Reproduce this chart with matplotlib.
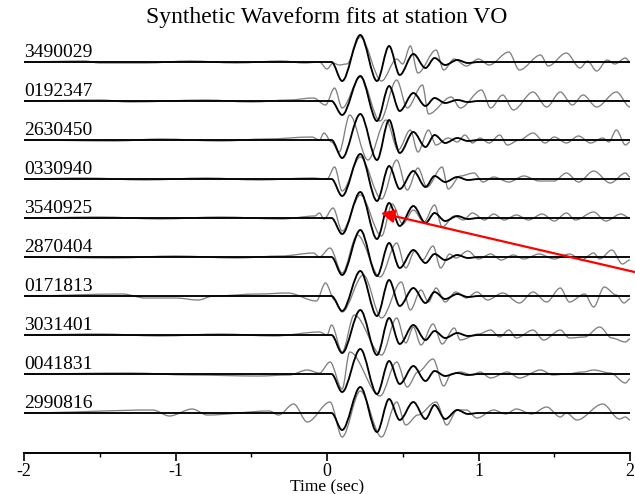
import matplotlib
matplotlib.use("Agg")
import matplotlib.pyplot as plt
from matplotlib.ticker import MultipleLocator
from matplotlib.path import Path
from matplotlib.patches import PathPatch

plt.rcParams['font.family'] = ['Liberation Serif', 'DejaVu Serif']

title = "Synthetic Waveform fits at station VO"
xlabel = "Time (sec)"
stations = ["3490029", "0192347", "2630450", "0330940", "3540925",
            "2870404", "0171813", "3031401", "0041831", "2990816"]
xticks = [-2, -1, 0, 1, 2]
xtick_labels = ["-2", "-1", "0", "1", "2"]

# synthetic (black) waveforms: common time samples (extrema), per-trace amplitudes
syn_t = [-2.0, 0.03, 0.10, 0.22, 0.33, 0.41, 0.48, 0.57, 0.65, 0.71, 0.78, 0.86, 0.93, 1.0, 2.0]
syn_a = {
    "3490029": [0, 0, -19, 27, -19, 16, -13, 8, -6, 4, -3, 2, -1, 0, 0],
    "0192347": [0, 0, -14, 25, -20, 15, -10, 8, -5, 3, -2, 1, -1, 0, 0],
    "2630450": [0, 0, -18, 26, -20, 20, -13, 8, -7, 5, -3, 2, -1, 0, 0],
    "0330940": [0, 0, -17, 25, -22, 13, -10, 8, -8, 3, -3, 2, -1, 0, 0],
    "3540925": [0, 0, -16, 26, -21, 15, -8, 12, -5, 5, -3, 2, -1, 0, 0],
    "2870404": [0, 0, -18, 27, -19, 14, -11, 7, -6, 3, -3, 2, -1, 0, 0],
    "0171813": [0, 0, -15, 25, -20, 16, -10, 8, -7, 4, -3, 2, -1, 0, 0],
    "3031401": [0, 0, -18, 25, -20, 17, -9, 10, -5, 4, -3, 2, -1, 0, 0],
    "0041831": [0, 0, -18, 25, -20, 13, -10, 8, -7, 3, -2, 1, -1, 0, 0],
    "2990816": [0, 0, -17, 26, -19, 14, -7, 11, -6, 8, -6, 3, -1, 0, 0],
}

# observed (grey) waveforms: extrema times and amplitudes per trace
obs_t = {
    "3490029": [-2.0, -1.6, -1.5, -1.2, -0.9, -0.6, -0.3, -0.15, -0.05, 0.0, 0.04, 0.08, 0.13, 0.22, 0.36, 0.46, 0.50, 0.55, 0.60, 0.72, 0.77, 0.84, 0.92, 1.0, 1.07, 1.2, 1.27, 1.41, 1.46, 1.58, 1.67, 1.72, 1.78, 1.85, 1.90, 1.97, 2.0],
    "0192347": [-2.0, -1.5, -1.3, -0.8, -0.5, -0.25, -0.09, -0.01, 0.05, 0.10, 0.22, 0.35, 0.46, 0.53, 0.63, 0.67, 0.82, 0.88, 1.02, 1.08, 1.16, 1.23, 1.36, 1.45, 1.54, 1.62, 1.69, 1.78, 1.91, 2.0],
    "2630450": [-2.0, -1.4, -1.1, -0.7, -0.4, -0.1, -0.05, -0.02, 0.03, 0.08, 0.15, 0.27, 0.39, 0.47, 0.55, 0.60, 0.67, 0.72, 0.80, 0.86, 0.91, 0.96, 1.01, 1.07, 1.14, 1.19, 1.27, 1.36, 1.44, 1.5, 1.58, 1.66, 1.74, 1.82, 1.86, 1.91, 1.97, 2.0],
    "0330940": [-2.0, -1.6, -1.2, -0.8, -0.45, -0.1, 0.0, 0.05, 0.10, 0.22, 0.36, 0.46, 0.53, 0.60, 0.66, 0.76, 0.80, 0.88, 0.97, 1.03, 1.1, 1.2, 1.3, 1.4, 1.50, 1.58, 1.66, 1.76, 1.87, 1.97, 2.0],
    "3540925": [-2.0, -1.5, -1.1, -0.7, -0.3, -0.08, -0.05, -0.02, 0.04, 0.10, 0.22, 0.36, 0.43, 0.50, 0.57, 0.64, 0.71, 0.76, 0.84, 0.90, 0.96, 1.04, 1.1, 1.17, 1.25, 1.33, 1.42, 1.5, 1.58, 1.64, 1.76, 1.84, 1.94, 2.0],
    "2870404": [-2.0, -1.4, -1.0, -0.6, -0.3, -0.09, -0.05, 0.02, 0.10, 0.20, 0.35, 0.46, 0.52, 0.58, 0.63, 0.70, 0.75, 0.81, 0.85, 0.93, 1.0, 1.08, 1.15, 1.23, 1.3, 1.4, 1.5, 1.6, 1.68, 1.76, 1.80, 1.88, 1.95, 2.0],
    "0171813": [-2.0, -1.35, -1.2, -1.0, -0.85, -0.75, -0.45, -0.26, -0.07, -0.01, 0.05, 0.10, 0.24, 0.36, 0.49, 0.55, 0.62, 0.67, 0.72, 0.78, 0.85, 0.92, 0.99, 1.06, 1.16, 1.27, 1.36, 1.45, 1.54, 1.60, 1.70, 1.76, 1.83, 1.91, 1.96, 2.0],
    "3031401": [-2.0, -1.5, -1.1, -0.7, -0.35, -0.05, 0.0, 0.03, 0.10, 0.18, 0.36, 0.46, 0.52, 0.57, 0.62, 0.70, 0.76, 0.84, 0.88, 1.0, 1.08, 1.14, 1.2, 1.25, 1.36, 1.43, 1.54, 1.6, 1.70, 1.80, 1.88, 1.97, 2.0],
    "0041831": [-2.0, -1.3, -0.9, -0.45, -0.25, -0.13, -0.05, 0.02, 0.10, 0.15, 0.35, 0.46, 0.53, 0.60, 0.70, 0.77, 0.82, 0.88, 0.96, 1.01, 1.08, 1.19, 1.27, 1.41, 1.49, 1.58, 1.69, 1.76, 1.87, 1.97, 2.0],
    "2990816": [-2.0, -1.15, -1.04, -0.89, -0.79, -0.38, -0.32, -0.22, -0.13, 0.02, 0.10, 0.22, 0.36, 0.46, 0.52, 0.60, 0.72, 0.79, 0.86, 0.92, 0.99, 1.10, 1.18, 1.25, 1.35, 1.45, 1.54, 1.58, 1.65, 1.82, 1.93, 1.97, 2.0],
}
obs_a = {
    "3490029": [0, 1, -1, -1, 1, -1, 1, -1, 0, -7, -1, -3, -2, 25, -19, 3, -2, 16, -11, 12, -8, 3, -4, 3, -3, 10, -8, 7, -4, 9, -6, 1, -9, 2, -2, 4, 0],
    "0192347": [0, 1, -1, 1, -1, 1, 3, -4, 13, -7, 24, -20, 21, -7, 16, -13, 4, -7, 11, -7, 6, -9, 9, -6, 9, -4, 6, -6, 9, -6],
    "2630450": [0, -1, 1, -1, 1, 3, 0, 7, -2, -12, 25, -20, 20, -10, 10, -12, 10, -5, 2, -2, 5, -3, 2, -3, 5, -5, 0, 7, -3, 3, -3, 4, -3, 2, -2, 10, -5, -2],
    "0330940": [0, 1, -1, 1, -1, 1, 0, 12, -12, 22, -20, 19, -11, 11, -8, 12, -10, 3, 6, -3, 2, -3, 3, -2, -2, 6, -3, 8, -4, 6, 2],
    "3540925": [0, 1, -1, 1, -1, 2, 5, -1, 10, -13, 23, -18, 14, -6, 8, -4, 13, -9, 2, -2, 5, -2, 4, -2, 3, -2, 4, -3, 5, -2, 6, -3, 4, 0],
    "2870404": [0, -1, 1, -1, 1, 4, 0, 9, -16, 22, -20, 14, -11, 6, -3, 11, -11, 3, -1, 6, -2, 3, -3, 2, -2, 3, -2, 3, -3, 4, -2, 7, -7, -3],
    "0171813": [0, 2, -2, -2, -4, 0, 2, 3, -5, 13, -4, -16, 21, -22, 14, -14, 6, -6, 8, -6, 4, -2, 4, -4, 3, -7, 4, -6, 8, -6, 2, -11, 9, 1, -7, -3],
    "3031401": [0, 1, -1, 1, -1, 3, 0, 10, -17, 20, -20, 17, -8, 8, -10, 11, -9, 7, -5, 1, 5, -2, 5, -3, 5, -5, 5, -3, -2, 8, -3, -7, -4],
    "0041831": [0, 1, -1, -2, -1, 4, 1, 12, -15, 22, -22, 12, -13, 2, 15, -12, 0, 2, -1, 2, -4, 2, -4, 4, -1, 0, 2, 4, 1, -9, -5],
    "2990816": [0, 3, -3, 4, -2, 2, -2, 9, -9, 11, -24, 22, -24, 11, -12, -2, 11, -12, 3, 3, -5, 3, -1, 4, -1, 6, -4, 0, -7, 9, -6, -4, -7],
}


def wave_patch(ts, ys, **kw):
    """Smooth curve through the given extrema (horizontal tangents at each)."""
    verts = [(ts[0], ys[0])]
    codes = [Path.MOVETO]
    for k in range(1, len(ts)):
        dt = ts[k] - ts[k - 1]
        verts += [(ts[k - 1] + dt / 3, ys[k - 1]), (ts[k] - dt / 3, ys[k]), (ts[k], ys[k])]
        codes += [Path.CURVE4] * 3
    return PathPatch(Path(verts, codes), fill=False, capstyle="round",
                     joinstyle="round", **kw)


fig = plt.figure(figsize=(6.35, 4.94), dpi=100)
ax = fig.add_axes([24 / 635, 41 / 494, 606 / 635, 428 / 494])
ax.set_xlim(-2, 2)
ax.set_ylim(0, 428)

spacing = 39
base0 = 40
n = len(stations)
for i, st in enumerate(stations):
    base = base0 + spacing * (n - 1 - i)
    ax.add_patch(wave_patch(obs_t[st], [base + a for a in obs_a[st]],
                            edgecolor="#808080", lw=0.95, zorder=2))
    ax.add_patch(wave_patch(syn_t, [base + a for a in syn_a[st]],
                            edgecolor="black", lw=1.35, zorder=3))
    ax.text(-2.0, base + 1.5, st, ha="left", va="bottom", fontsize=14, zorder=4)

for s in ("left", "right", "top"):
    ax.spines[s].set_visible(False)
ax.spines["bottom"].set_linewidth(1.4)
ax.set_yticks([])
ax.set_xticks(xticks)
ax.set_xticklabels(xtick_labels, fontsize=13)
ax.xaxis.set_minor_locator(MultipleLocator(0.5))
ax.tick_params(axis="x", which="major", direction="out", length=6, width=1.2, pad=1)
ax.tick_params(axis="x", which="minor", direction="out", length=3, width=1.0)

fig.text(327 / 635, 1 - 17 / 494, title, ha="center", va="center", fontsize=17)
fig.text(327 / 635, 1 - 487 / 494, xlabel, ha="center", va="center", fontsize=12.5)

ax.annotate("", xy=(0.356, 240), xytext=(2.03, 181),
            arrowprops=dict(arrowstyle="-|>", color="red", lw=1.6, mutation_scale=20,
                            shrinkA=0, shrinkB=0),
            annotation_clip=False, zorder=5)

fig.savefig("out.png", dpi=100)
